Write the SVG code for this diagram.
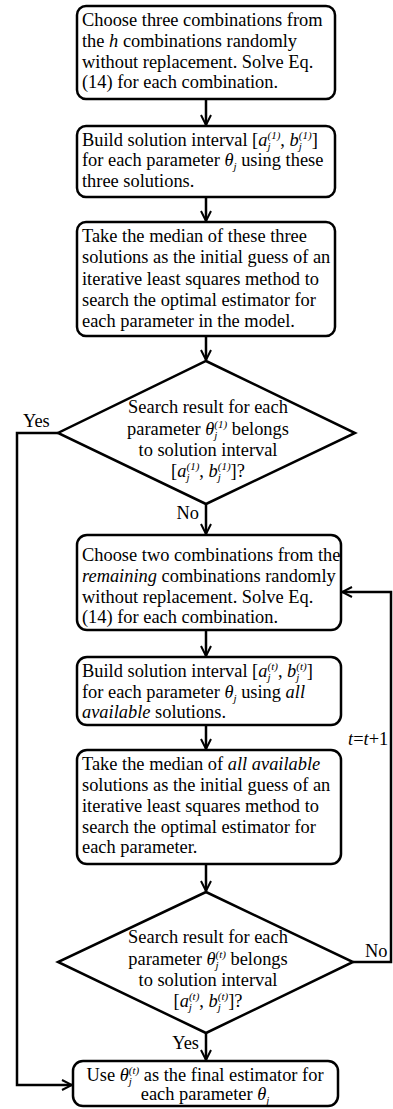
<svg xmlns="http://www.w3.org/2000/svg" width="393" height="1109" viewBox="0 0 393 1109">
<style>
.box{fill:#fff;stroke:#000;stroke-width:2.5}
.dia{fill:#fff;stroke:#000;stroke-width:2.5;stroke-linejoin:miter}
.ln{fill:none;stroke:#000;stroke-width:2.5}
.t{font-family:"Liberation Serif","Times New Roman",serif;font-size:18.4px;fill:#000}
.c{text-anchor:middle}
.e{text-anchor:end}
.i{font-style:italic}
.s{font-size:11px;font-style:italic}
</style>
<defs>
<marker id="ah" viewBox="0 0 12 12" refX="11" refY="6" markerWidth="12" markerHeight="12" markerUnits="userSpaceOnUse" orient="auto">
<path d="M1,1 L11,6 L1,11" fill="none" stroke="#000" stroke-width="2"/>
</marker>
</defs>
<rect width="393" height="1109" fill="#fff"/>
<g id="connectors">
<line class="ln" x1="206" y1="99" x2="206" y2="125" marker-end="url(#ah)"/>
<line class="ln" x1="206" y1="197" x2="206" y2="221" marker-end="url(#ah)"/>
<line class="ln" x1="206" y1="336" x2="206" y2="360" marker-end="url(#ah)"/>
<line class="ln" x1="206" y1="504" x2="206" y2="534" marker-end="url(#ah)"/>
<line class="ln" x1="206" y1="630" x2="206" y2="656" marker-end="url(#ah)"/>
<line class="ln" x1="206" y1="725" x2="206" y2="749" marker-end="url(#ah)"/>
<line class="ln" x1="206" y1="864" x2="206" y2="891" marker-end="url(#ah)"/>
<line class="ln" x1="206" y1="1033" x2="206" y2="1060" marker-end="url(#ah)"/>
<polyline class="ln" points="58,433 17,433 17,1085 72,1085" marker-end="url(#ah)"/>
<polyline class="ln" points="353,962 391,962 391,592 342,592" marker-end="url(#ah)"/>
<text class="t" x="23" y="427">Yes</text>
<text class="t e" x="199" y="519">No</text>
<text class="t" x="365" y="957">No</text>
<text class="t e" x="199" y="1049">Yes</text>
<text class="t" x="348" y="745"><tspan class="i">t</tspan>=<tspan class="i">t</tspan>+1</text>
</g>
<g id="n1">
<rect class="box" x="77" y="6" width="258" height="93" rx="9"/>
<text class="t" x="82" y="26">Choose three combinations from</text>
<text class="t" x="82" y="47">the <tspan class="i">h</tspan> combinations randomly</text>
<text class="t" x="82" y="68">without replacement. Solve Eq.</text>
<text class="t" x="82" y="88">(14) for each combination.</text>
</g>
<g id="n2">
<rect class="box" x="77" y="126" width="258" height="71" rx="9"/>
<text class="t" x="82" y="146">Build solution interval [<tspan class="i">a</tspan><tspan class="s" dy="4">j</tspan><tspan class="s" dx="-3" dy="-11">(1)</tspan><tspan dy="7">, </tspan><tspan class="i">b</tspan><tspan class="s" dy="4">j</tspan><tspan class="s" dx="-3" dy="-11">(1)</tspan><tspan dy="7">]</tspan></text>
<text class="t" x="82" y="166">for each parameter <tspan class="i">θ</tspan><tspan class="s" dy="4">j</tspan><tspan dy="-4"> using these</tspan></text>
<text class="t" x="82" y="187">three solutions.</text>
</g>
<g id="n3">
<rect class="box" x="77" y="222" width="258" height="114" rx="9"/>
<text class="t" x="82" y="242">Take the median of these three</text>
<text class="t" x="82" y="263">solutions as the initial guess of an</text>
<text class="t" x="82" y="285">iterative least squares method to</text>
<text class="t" x="82" y="306">search the optimal estimator for</text>
<text class="t" x="82" y="327">each parameter in the model.</text>
</g>
<g id="d1">
<polygon class="dia" points="206,361 355,433 206,504 58,433"/>
<text class="t c" x="208" y="413">Search result for each</text>
<text class="t c" x="208" y="435">parameter <tspan class="i">θ</tspan><tspan class="s" dy="4">j</tspan><tspan class="s" dx="-3" dy="-11">(1)</tspan><tspan dy="7"> belongs</tspan></text>
<text class="t c" x="208" y="456">to solution interval</text>
<text class="t c" x="208" y="477">[<tspan class="i">a</tspan><tspan class="s" dy="4">j</tspan><tspan class="s" dx="-3" dy="-11">(1)</tspan><tspan dy="7">, </tspan><tspan class="i">b</tspan><tspan class="s" dy="4">j</tspan><tspan class="s" dx="-3" dy="-11">(1)</tspan><tspan dy="7">]?</tspan></text>
</g>
<g id="n4">
<rect class="box" x="77" y="535" width="264" height="95" rx="10"/>
<text class="t" x="82" y="561">Choose two combinations from the</text>
<text class="t" x="82" y="582"><tspan class="i">remaining</tspan> combinations randomly</text>
<text class="t" x="82" y="603">without replacement. Solve Eq.</text>
<text class="t" x="82" y="623">(14) for each combination.</text>
</g>
<g id="n5">
<rect class="box" x="77" y="657" width="264" height="68" rx="10"/>
<text class="t" x="82" y="677">Build solution interval [<tspan class="i">a</tspan><tspan class="s" dy="4">j</tspan><tspan class="s" dx="-3" dy="-11">(t)</tspan><tspan dy="7">, </tspan><tspan class="i">b</tspan><tspan class="s" dy="4">j</tspan><tspan class="s" dx="-3" dy="-11">(t)</tspan><tspan dy="7">]</tspan></text>
<text class="t" x="82" y="698">for each parameter <tspan class="i">θ</tspan><tspan class="s" dy="4">j</tspan><tspan dy="-4"> using </tspan><tspan class="i">all</tspan></text>
<text class="t" x="82" y="718"><tspan class="i">available</tspan> solutions.</text>
</g>
<g id="n6">
<rect class="box" x="77" y="750" width="264" height="114" rx="10"/>
<text class="t" x="82" y="770">Take the median of <tspan class="i">all available</tspan></text>
<text class="t" x="82" y="791">solutions as the initial guess of an</text>
<text class="t" x="82" y="812">iterative least squares method to</text>
<text class="t" x="82" y="833">search the optimal estimator for</text>
<text class="t" x="82" y="853">each parameter.</text>
</g>
<g id="d2">
<polygon class="dia" points="206,892 353,962 206,1033 58,962"/>
<text class="t c" x="208" y="943">Search result for each</text>
<text class="t c" x="208" y="965">parameter <tspan class="i">θ</tspan><tspan class="s" dy="4">j</tspan><tspan class="s" dx="-3" dy="-11">(t)</tspan><tspan dy="7"> belongs</tspan></text>
<text class="t c" x="208" y="986">to solution interval</text>
<text class="t c" x="208" y="1007">[<tspan class="i">a</tspan><tspan class="s" dy="4">j</tspan><tspan class="s" dx="-3" dy="-11">(t)</tspan><tspan dy="7">, </tspan><tspan class="i">b</tspan><tspan class="s" dy="4">j</tspan><tspan class="s" dx="-3" dy="-11">(t)</tspan><tspan dy="7">]?</tspan></text>
</g>
<g id="n7">
<rect class="box" x="73" y="1061" width="265" height="45" rx="10"/>
<text class="t c" x="205" y="1081">Use <tspan class="i">θ</tspan><tspan class="s" dy="4">j</tspan><tspan class="s" dx="-3" dy="-11">(t)</tspan><tspan dy="7"> as the final estimator for</tspan></text>
<text class="t c" x="205" y="1100">each parameter <tspan class="i">θ</tspan><tspan class="s" dy="4">j</tspan></text>
</g>
</svg>
